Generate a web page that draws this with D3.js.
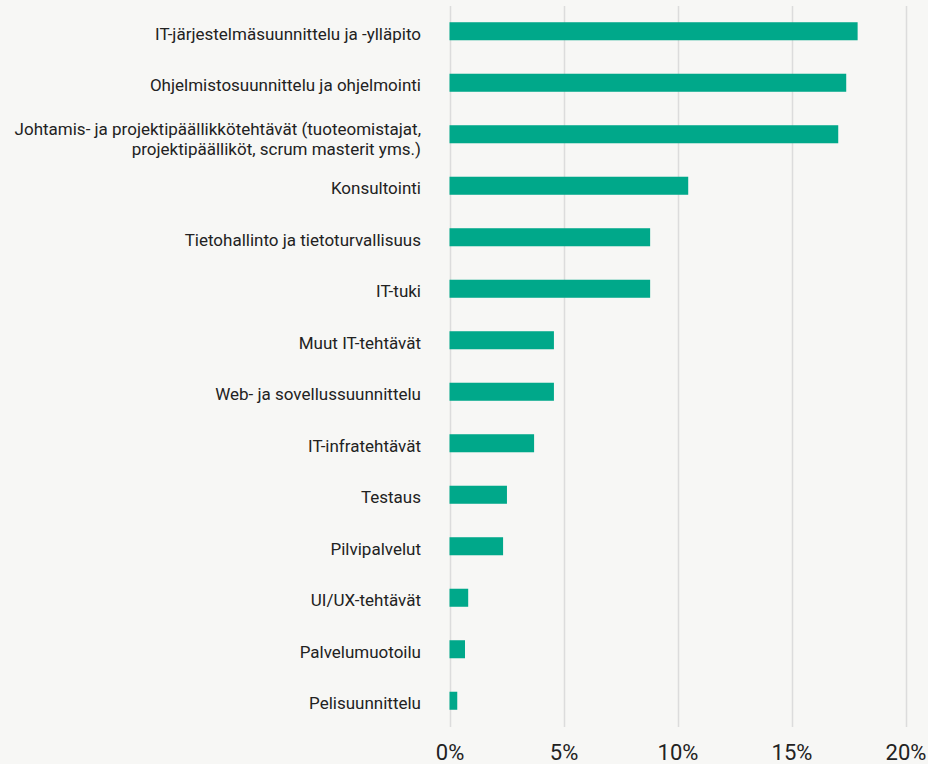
<!DOCTYPE html>
<html><head><meta charset="utf-8">
<script src="https://cdn.jsdelivr.net/npm/d3@7"></script>
<style>
html,body{margin:0;padding:0;background:#f7f7f5;}
svg{display:block;font-family:Roboto,"Noto Sans",sans-serif;}
</style></head>
<body>
<svg id="chart" width="928" height="764"></svg>
<script>
const categories = [
  "IT-järjestelmäsuunnittelu ja -ylläpito",
  "Ohjelmistosuunnittelu ja ohjelmointi",
  "Johtamis- ja projektipäällikkötehtävät (tuoteomistajat,|projektipäälliköt, scrum masterit yms.)",
  "Konsultointi",
  "Tietohallinto ja tietoturvallisuus",
  "IT-tuki",
  "Muut IT-tehtävät",
  "Web- ja sovellussuunnittelu",
  "IT-infratehtävät",
  "Testaus",
  "Pilvipalvelut",
  "UI/UX-tehtävät",
  "Palvelumuotoilu",
  "Pelisuunnittelu"
];
const values = [17.9, 17.4, 17.05, 10.47, 8.8, 8.8, 4.58, 4.58, 3.71, 2.52, 2.35, 0.82, 0.68, 0.34];
const tickValues = [0, 5, 10, 15, 20];

const svg = d3.select("#chart");
const x = d3.scaleLinear().domain([0, 20]).range([449.5, 905.5]);
const y = d3.scaleBand().domain(categories).range([5.5, 726.5]).paddingInner(0.65).paddingOuter(0.325);

// grid
svg.append("g").selectAll("line").data(tickValues).join("line")
  .attr("x1", d => Math.round(x(d)) + 0.5).attr("x2", d => Math.round(x(d)) + 0.5)
  .attr("y1", 6).attr("y2", 727)
  .attr("stroke", "#dcdcdc").attr("stroke-width", 1.5);

// bars
svg.append("g").selectAll("rect").data(values).join("rect")
  .attr("x", x(0)).attr("y", (d, i) => y(categories[i]))
  .attr("width", d => x(d) - x(0)).attr("height", y.bandwidth())
  .attr("fill", "#00a88a");

// category labels
const lab = svg.append("g").attr("font-size", 17).attr("fill", "#222").attr("text-anchor", "end");
categories.forEach((c, i) => {
  const lines = c.split("|");
  const cy = y(c) + y.bandwidth() / 2;
  const lh = 20;
  const t = lab.append("text").attr("x", 421).attr("y", cy + 8.5 - (lines.length - 1) * 7.5);
  lines.forEach((l, j) => t.append("tspan").attr("x", 421).attr("dy", j ? lh : 0).text(l));
});

// x axis tick labels
const xa = svg.append("g").attr("transform", "translate(0,760)")
  .call(d3.axisBottom(x).tickValues(tickValues).tickFormat(d => d + "%").tickSize(0).tickPadding(0));
xa.select(".domain").remove();
xa.selectAll("text").attr("font-size", 22).attr("fill", "#222").attr("font-family", "Roboto,sans-serif").attr("dy", 0);
</script>
</body></html>
